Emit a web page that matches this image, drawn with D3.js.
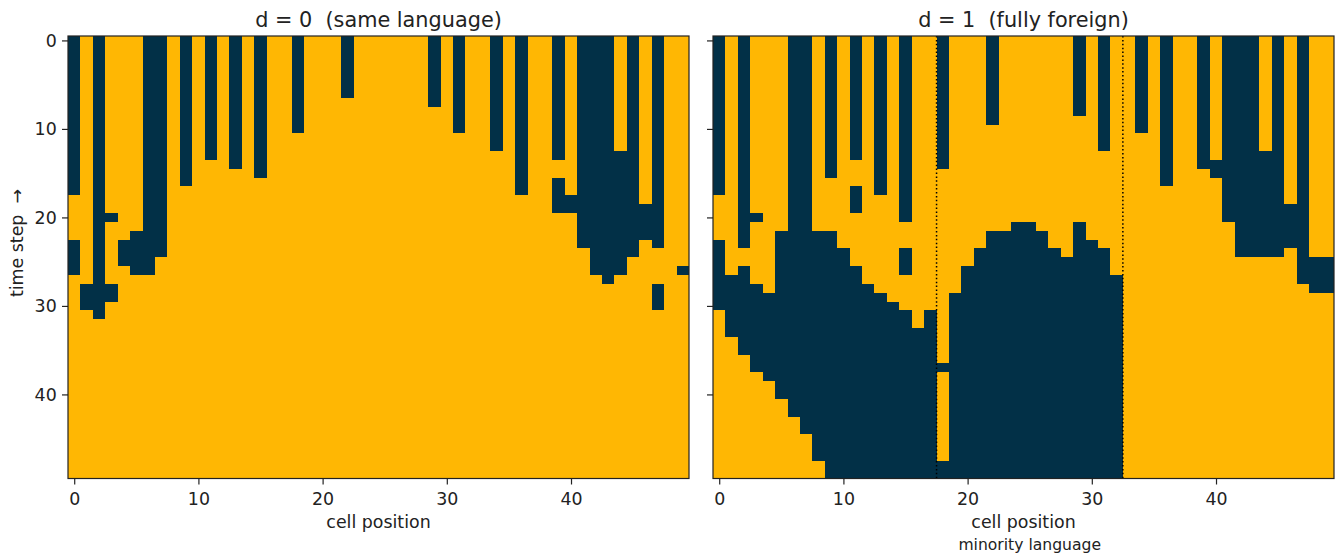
<!DOCTYPE html>
<html>
<head>
<meta charset="utf-8">
<script src="https://cdn.jsdelivr.net/npm/d3@7"></script>
<style>
  body { margin: 0; background: #fff; }
  svg text { font-family: "DejaVu Sans", sans-serif; fill: #222; white-space: pre; }
</style>
</head>
<body>
<div id="chart"></div>
<script>
// Grid size: 50 cells x 50 time steps
const cellCount = 50;
const stepCount = 50;

// Dark (minority-language) runs per cell, as [firstStep, lastStep]
const darkRunsSame = [
  [[0, 17], [23, 26]], [[28, 30]], [[0, 31]], [[20, 20], [28, 29]], [[23, 25]],
  [[22, 26]], [[0, 26]], [[0, 24]], [], [[0, 16]],
  [], [[0, 13]], [], [[0, 14]], [],
  [[0, 15]], [], [], [[0, 10]], [],
  [], [], [[0, 6]], [], [],
  [], [], [], [], [[0, 7]],
  [], [[0, 10]], [], [], [[0, 12]],
  [], [[0, 17]], [], [], [[0, 13], [16, 19]],
  [[18, 19]], [[0, 23]], [[0, 26]], [[0, 27]], [[13, 26]],
  [[0, 24]], [[19, 22]], [[0, 23], [28, 30]], [], [[26, 26]]
];

const darkRunsForeign = [
  [[0, 17], [23, 30]], [[27, 33]], [[0, 23], [26, 35]], [[20, 20], [28, 37]], [[29, 38]],
  [[22, 40]], [[0, 42]], [[0, 44]], [[22, 47]], [[0, 15], [22, 49]],
  [[24, 49]], [[0, 13], [17, 19], [26, 49]], [[28, 49]], [[0, 17], [29, 49]], [[30, 49]],
  [[0, 20], [24, 26], [31, 49]], [[33, 49]], [[31, 49]], [[0, 14], [37, 37], [48, 49]], [[29, 49]],
  [[26, 49]], [[24, 49]], [[0, 9], [22, 49]], [[22, 49]], [[21, 49]],
  [[21, 49]], [[22, 49]], [[24, 49]], [[25, 49]], [[0, 8], [21, 49]],
  [[23, 49]], [[0, 12], [24, 49]], [[27, 49]], [], [[0, 10]],
  [], [[0, 16]], [], [], [[0, 14]],
  [[14, 15]], [[0, 20]], [[0, 24]], [[0, 24]], [[13, 24]],
  [[0, 24]], [[19, 23]], [[0, 27]], [[25, 28]], [[25, 28]]
];

const xTicks = [0, 10, 20, 30, 40];
const yTicks = [0, 10, 20, 30, 40];
const minorityBounds = [17.5, 32.5];
const minorityCenter = 25;

const panelTitles = ["d = 0  (same language)", "d = 1  (fully foreign)"];

const COLORS = { dark: "#023047", light: "#FFB703", ink: "#222" };

const width = 1338, height = 558;
const plotTop = 36, plotW = 621, plotH = 442.5;
const panelLefts = [68, 713];

const svg = d3.select("#chart").append("svg")
  .attr("width", width)
  .attr("height", height);

const x = d3.scaleLinear().domain([-0.5, cellCount - 0.5]).range([0, plotW]);
const y = d3.scaleLinear().domain([-0.5, stepCount - 0.5]).range([0, plotH]);

const panels = [
  { title: panelTitles[0], runs: darkRunsSame, left: panelLefts[0], yLabels: true, minority: false },
  { title: panelTitles[1], runs: darkRunsForeign, left: panelLefts[1], yLabels: false, minority: true }
];

panels.forEach(panel => {
  let g = svg.append("g").attr("transform", `translate(${panel.left},${plotTop})`);

  // yellow background = majority language
  g.append("rect")
    .attr("width", plotW)
    .attr("height", plotH)
    .attr("fill", COLORS.light);

  // flatten runs into rect records
  let runs = [];
  panel.runs.forEach((cellRuns, cell) => {
    cellRuns.forEach(r => runs.push({ cell: cell, start: r[0], end: r[1] }));
  });

  g.selectAll("rect.run")
    .data(runs)
    .enter()
      .append("rect")
      .attr("class", "run")
      .attr("x", d => x(d.cell - 0.5))
      .attr("y", d => y(d.start - 0.5))
      .attr("width", d => x(d.cell + 0.5) - x(d.cell - 0.5))
      .attr("height", d => y(d.end + 0.5) - y(d.start - 0.5))
      .attr("fill", COLORS.dark)
      .attr("shape-rendering", "crispEdges");

  if (panel.minority) {
    g.selectAll("line.bound")
      .data(minorityBounds)
      .enter()
        .append("line")
        .attr("class", "bound")
        .attr("x1", d => x(d))
        .attr("x2", d => x(d))
        .attr("y1", 0)
        .attr("y2", plotH)
        .attr("stroke", "#000")
        .attr("stroke-width", 1.5)
        .attr("stroke-dasharray", "1.5,2.4");
  }

  // frame
  g.append("rect")
    .attr("width", plotW)
    .attr("height", plotH)
    .attr("fill", "none")
    .attr("stroke", COLORS.ink)
    .attr("stroke-width", 1.2);

  // axes
  let xAxis = g.append("g")
    .attr("transform", `translate(0,${plotH})`)
    .call(d3.axisBottom(x).tickValues(xTicks).tickSize(6).tickPadding(8));
  let yAxis = g.append("g")
    .call(d3.axisLeft(y).tickValues(yTicks).tickSize(6).tickPadding(5.3)
      .tickFormat(panel.yLabels ? d3.format("d") : () => ""));

  [xAxis, yAxis].forEach(ax => {
    ax.select(".domain").remove();
    ax.selectAll("line").attr("stroke", COLORS.ink).attr("stroke-width", 1.2);
    ax.selectAll("text")
      .attr("fill", COLORS.ink)
      .style("font-size", "17.4px")
      .style("font-family", "DejaVu Sans");
  });

  g.append("text")
    .attr("x", plotW / 2)
    .attr("y", 27 - plotTop)
    .attr("text-anchor", "middle")
    .style("font-size", "20.8px")
    .text(panel.title);

  g.append("text")
    .attr("x", plotW / 2)
    .attr("y", 528 - plotTop)
    .attr("text-anchor", "middle")
    .style("font-size", "17.4px")
    .text("cell position");

  if (panel.minority) {
    g.append("text")
      .attr("x", x(minorityCenter))
      .attr("y", 550 - plotTop)
      .attr("text-anchor", "middle")
      .style("font-size", "15.6px")
      .text("minority language");
  }
});

// y axis label
svg.append("text")
  .attr("transform", "translate(23,243) rotate(-90)")
  .attr("text-anchor", "middle")
  .style("font-size", "17.4px")
  .text("time step  →");
</script>
</body>
</html>
